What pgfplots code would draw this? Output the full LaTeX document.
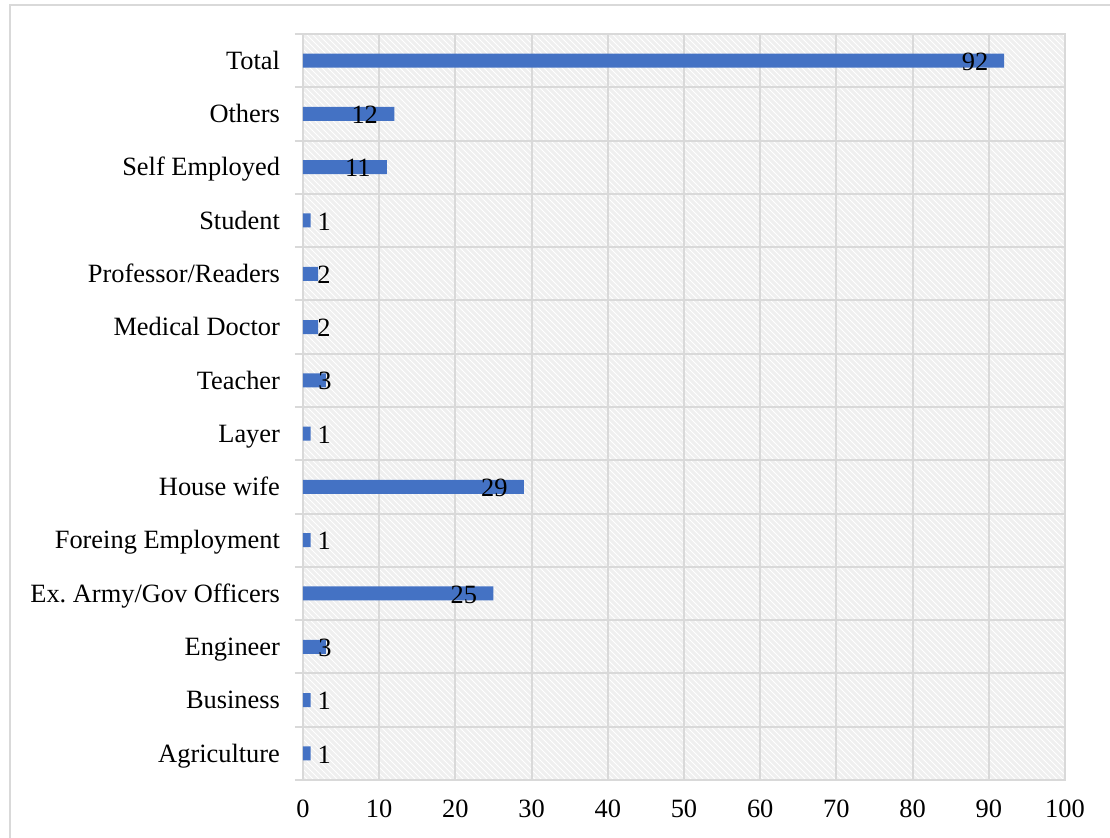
\documentclass[border=0pt]{standalone}
\usepackage{fontspec}
\setmainfont{Liberation Serif}
\usepackage{pgfplots}
\pgfplotsset{compat=1.18}
\usetikzlibrary{patterns}
\definecolor{barblue}{HTML}{4472C4}
\definecolor{gridgray}{HTML}{D9D9D9}
\definecolor{bggray}{HTML}{EFEFEF}

\pgfplotstableread{
x y
1 0
1 1
3 2
25 3
1 4
29 5
1 6
3 7
2 8
2 9
1 10
11 11
12 12
92 13
}\bars

\pgfplotstableread{
x y label
2.8 0 1
2.8 1 1
2.9 2 3
21.1 3 25
2.8 4 1
25.1 5 29
2.8 6 1
2.9 7 3
2.76 8 2
2.76 9 2
2.8 10 1
7.2 11 11
8.1 12 12
88.2 13 92
}\labels

\begin{document}
\frenchspacing
\begin{tikzpicture}
\useasboundingbox (0pt,0pt) rectangle (555pt,419pt);
\draw[gridgray, line width=1.2pt] (5pt,-5pt) -- (5pt,416.5pt) -- (560pt,416.5pt);
\begin{axis}[
  at={(151.5pt,29pt)}, anchor=south west,
  scale only axis, width=381pt, height=373pt,
  xmin=0, xmax=100, ymin=-0.5, ymax=13.5,
  xtick={0,10,...,100},
  ytick={0,...,13},
  yticklabels={Agriculture, Business, Engineer, Ex.\ Army/Gov Officers, Foreing Employment, House wife, Layer, Teacher, Medical Doctor, Professor/Readers, Student, Self Employed, Others, Total},
  minor ytick={-0.5,0.5,...,13.5},
  ymajorgrids=false, yminorgrids=true, xmajorgrids=true,
  grid style={gridgray, line width=1pt},
  minor grid style={gridgray, line width=1pt},
  axis line style={gridgray, line width=1pt},
  tick align=outside, tickpos=left,
  major tick length=0pt, minor tick length=4pt,
  minor tick style={gridgray, line width=1pt},
  ticklabel style={font=\fontsize{13.2}{15}\selectfont, text=black},
  yticklabel style={anchor=base east, xshift=-8pt, yshift=-4.4pt},
  xticklabel style={yshift=-6.3pt},
  /pgf/number format/assume math mode=true,
  axis background/.style={fill=bggray, postaction={pattern=north west lines, pattern color=white}},
]
\addplot[xbar, bar width=7pt, fill=barblue, draw=none] table[x=x, y=y] {\bars};
\addplot[draw=none, mark=none, nodes near coords, point meta=explicit symbolic,
  every node near coord/.append style={font=\fontsize{13.2}{15}\selectfont, text=black, anchor=center, inner sep=0pt, yshift=-0.5pt}]
  table[x=x, y=y, meta=label] {\labels};
\end{axis}
\end{tikzpicture}
\end{document}
